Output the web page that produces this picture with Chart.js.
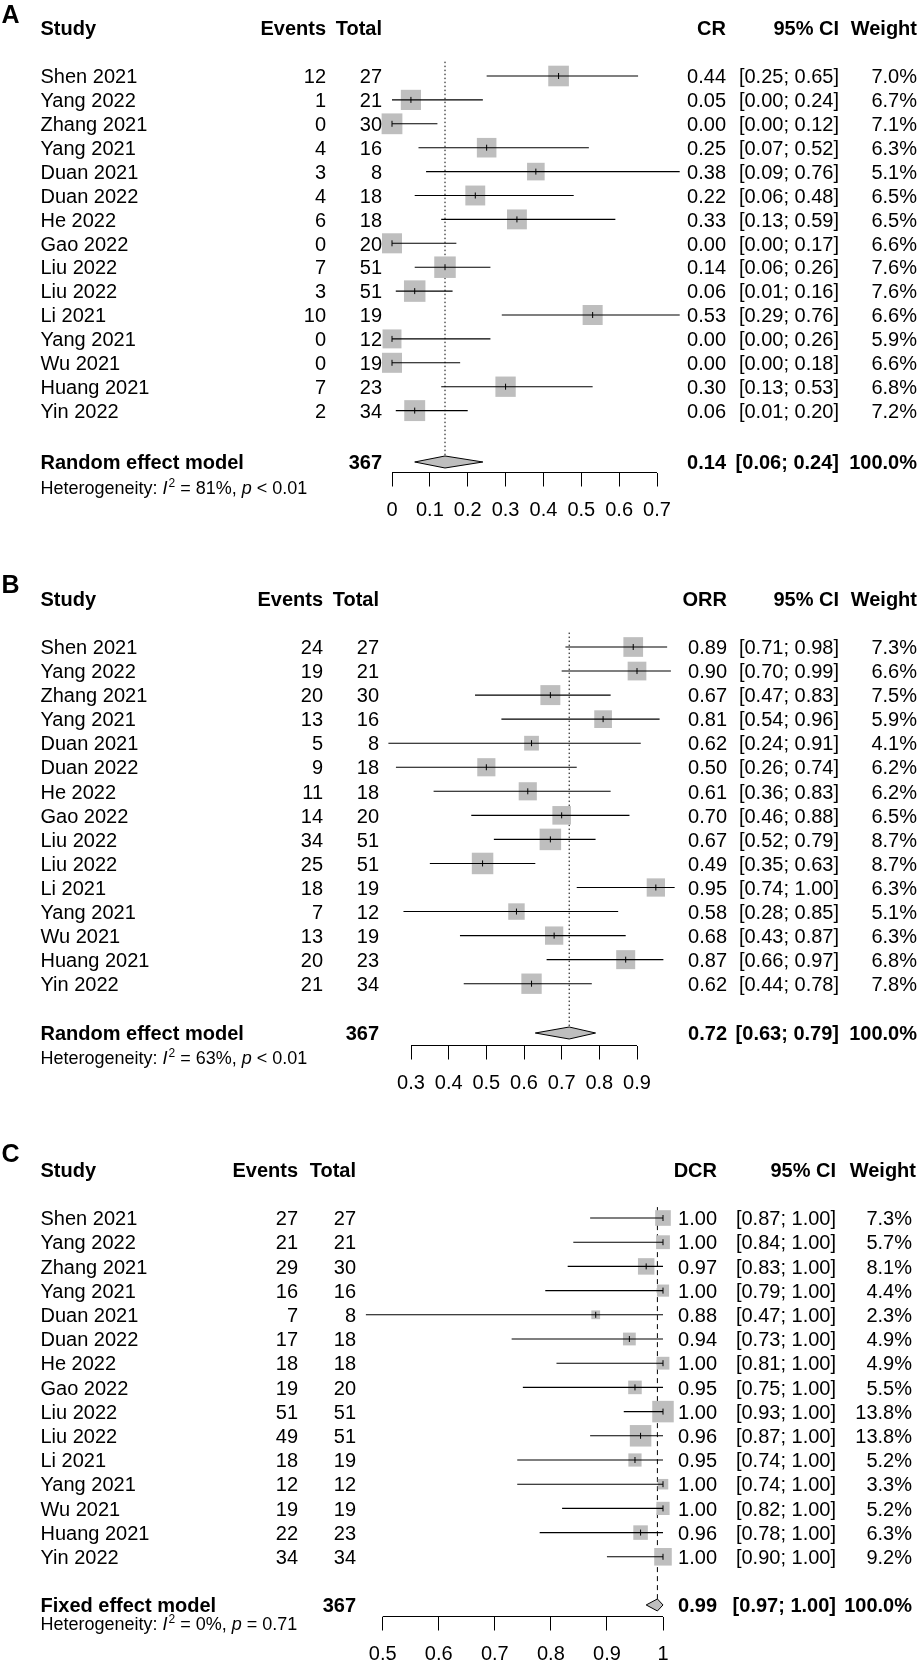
<!DOCTYPE html>
<html><head><meta charset="utf-8">
<script src="https://cdn.jsdelivr.net/npm/chart.js@4.4.1/dist/chart.umd.min.js"></script>
<style>
html,body{margin:0;padding:0;background:#fff;}
#wrap{position:relative;width:922px;height:1664px;background:#fff;overflow:hidden;}
canvas{position:absolute;left:0;}
</style></head><body><div id="wrap">
<canvas id="cA"></canvas><canvas id="cB"></canvas><canvas id="cC"></canvas></div>
<script>
// ---------- DATA ----------
const studies = ["Shen 2021","Yang 2022","Zhang 2021","Yang 2021","Duan 2021","Duan 2022","He 2022","Gao 2022","Liu 2022","Liu 2022","Li 2021","Yang 2021","Wu 2021","Huang 2021","Yin 2022"];
const totals = [27,21,30,16,8,18,18,20,51,51,19,12,19,23,34];
const totalN = 367;

// Panel A: CR
const crEvents = [12,1,0,4,3,4,6,0,7,3,10,0,0,7,2];
const crEst = [0.44,0.05,0.00,0.25,0.38,0.22,0.33,0.00,0.14,0.06,0.53,0.00,0.00,0.30,0.06];
const crLo  = [0.25,0.00,0.00,0.07,0.09,0.06,0.13,0.00,0.06,0.01,0.29,0.00,0.00,0.13,0.01];
const crHi  = [0.65,0.24,0.12,0.52,0.76,0.48,0.59,0.17,0.26,0.16,0.76,0.26,0.18,0.53,0.20];
const crWeight = [7.0,6.7,7.1,6.3,5.1,6.5,6.5,6.6,7.6,7.6,6.6,5.9,6.6,6.8,7.2];
const crPooled = [0.14,0.06,0.24];
const crTicks = [0,0.1,0.2,0.3,0.4,0.5,0.6,0.7];
const crTickLabels = ["0","0.1","0.2","0.3","0.4","0.5","0.6","0.7"];

// Panel B: ORR
const orrEvents = [24,19,20,13,5,9,11,14,34,25,18,7,13,20,21];
const orrEst = [0.89,0.90,0.67,0.81,0.62,0.50,0.61,0.70,0.67,0.49,0.95,0.58,0.68,0.87,0.62];
const orrLo  = [0.71,0.70,0.47,0.54,0.24,0.26,0.36,0.46,0.52,0.35,0.74,0.28,0.43,0.66,0.44];
const orrHi  = [0.98,0.99,0.83,0.96,0.91,0.74,0.83,0.88,0.79,0.63,1.00,0.85,0.87,0.97,0.78];
const orrWeight = [7.3,6.6,7.5,5.9,4.1,6.2,6.2,6.5,8.7,8.7,6.3,5.1,6.3,6.8,7.8];
const orrPooled = [0.72,0.63,0.79];
const orrTicks = [0.3,0.4,0.5,0.6,0.7,0.8,0.9];
const orrTickLabels = ["0.3","0.4","0.5","0.6","0.7","0.8","0.9"];

// Panel C: DCR
const dcrEvents = [27,21,29,16,7,17,18,19,51,49,18,12,19,22,34];
const dcrEst = [1.00,1.00,0.97,1.00,0.88,0.94,1.00,0.95,1.00,0.96,0.95,1.00,1.00,0.96,1.00];
const dcrLo  = [0.87,0.84,0.83,0.79,0.47,0.73,0.81,0.75,0.93,0.87,0.74,0.74,0.82,0.78,0.90];
const dcrHi  = [1.00,1.00,1.00,1.00,1.00,1.00,1.00,1.00,1.00,1.00,1.00,1.00,1.00,1.00,1.00];
const dcrWeight = [7.3,5.7,8.1,4.4,2.3,4.9,4.9,5.5,13.8,13.8,5.2,3.3,5.2,6.3,9.2];
const dcrPooled = [0.99,0.97,1.00];
const dcrTicks = [0.5,0.6,0.7,0.8,0.9,1.0];
const dcrTickLabels = ["0.5","0.6","0.7","0.8","0.9","1"];

const hetI2 = [81,63,0];
const hetP = ["< 0.01","< 0.01","= 0.71"];
const panelLetters = ["A","B","C"];
const estNames = ["CR","ORR","DCR"];
const modelNames = ["Random effect model","Random effect model","Fixed effect model"];

// ---------- LAYOUT / STYLE ----------
const FF = '"Liberation Sans", Arial, Helvetica, sans-serif';
const W = 922;
// tickPx: pixel of first and last tick; range: plotted value range (wider than axis so marks are not culled)
const layouts = [
  {top:0, H:571, row0:76, step:23.9, sumRow:16.15, hetRow:17.2, axisY:472.5, headerY:27.5, labelY:14,
   tickPx:[392,657], range:[-0.05,0.8],
   cols:{study:40.5, events:326, total:382, est:726, ci:839, wt:917, wtHead:917}, refTop:-0.6, dash:[1.5,2.5]},
  {top:571, H:571, row0:76, step:24.05, sumRow:16.05, hetRow:17.09, axisY:474.5, headerY:28, labelY:12.5,
   tickPx:[411,637], range:[0.2,1.0],
   cols:{study:40.5, events:323, total:379, est:727, ci:839, wt:917, wtHead:917}, refTop:-0.6, dash:[1.5,2.5]},
  {top:1142, H:522, row0:76, step:24.2, sumRow:15.99, hetRow:16.74, axisY:474.5, headerY:28, labelY:10.5,
   tickPx:[382.7,663], range:[0.45,1.05],
   cols:{study:40.5, events:298, total:356, est:717, ci:836, wt:912, wtHead:916}, refTop:-0.45, dash:[5,4]}
];
const SQ_MAX = 21.5, DIA_HALF = 6;

const panels = [
  {events:crEvents, est:crEst, lo:crLo, hi:crHi, weight:crWeight, pooled:crPooled, ticks:crTicks, tickLabels:crTickLabels},
  {events:orrEvents, est:orrEst, lo:orrLo, hi:orrHi, weight:orrWeight, pooled:orrPooled, ticks:orrTicks, tickLabels:orrTickLabels},
  {events:dcrEvents, est:dcrEst, lo:dcrLo, hi:dcrHi, weight:dcrWeight, pooled:dcrPooled, ticks:dcrTicks, tickLabels:dcrTickLabels}
];

const forestText = {
  id:'forestText',
  afterDraw(chart, args, o){
    const k = o.k, P = panels[k], L = layouts[k], C = L.cols;
    const ctx = chart.ctx, ys = chart.scales.y;
    ctx.save();
    ctx.fillStyle = '#000';
    const t = (s, x, yc, align, weight, size, style) => {
      size = size || 20;
      ctx.font = `${style||'normal'} ${weight||'normal'} ${size}px ${FF}`;
      ctx.textAlign = align; ctx.textBaseline = 'alphabetic';
      ctx.fillText(s, x, yc + size*0.36);
    };
    t(panelLetters[k], 1.5, L.labelY, 'left', 'bold', 25);
    const hy = L.headerY;
    t('Study', C.study, hy, 'left', 'bold');
    t('Events', C.events, hy, 'right', 'bold');
    t('Total', C.total, hy, 'right', 'bold');
    t(estNames[k], C.est, hy, 'right', 'bold');
    t('95% CI', C.ci, hy, 'right', 'bold');
    t('Weight', C.wtHead, hy, 'right', 'bold');
    for (let i = 0; i < studies.length; i++) {
      const y = ys.getPixelForValue(i);
      t(studies[i], C.study, y, 'left');
      t(String(P.events[i]), C.events, y, 'right');
      t(String(totals[i]), C.total, y, 'right');
      t(P.est[i].toFixed(2), C.est, y, 'right');
      t('[' + P.lo[i].toFixed(2) + '; ' + P.hi[i].toFixed(2) + ']', C.ci, y, 'right');
      t(P.weight[i].toFixed(1) + '%', C.wt, y, 'right');
    }
    const sy = ys.getPixelForValue(L.sumRow);
    t(modelNames[k], C.study, sy, 'left', 'bold');
    t(String(totalN), C.total, sy, 'right', 'bold');
    t(P.pooled[0].toFixed(2), C.est, sy, 'right', 'bold');
    t('[' + P.pooled[1].toFixed(2) + '; ' + P.pooled[2].toFixed(2) + ']', C.ci, sy, 'right', 'bold');
    t('100.0%', C.wt, sy, 'right', 'bold');
    // heterogeneity line
    const hyy = ys.getPixelForValue(L.hetRow);
    const hs = 18, base = hyy + hs*0.36;
    let x = C.study;
    ctx.textAlign = 'left'; ctx.textBaseline = 'alphabetic';
    const seg = (s, style, size, dy) => {
      ctx.font = `${style||'normal'} normal ${size||hs}px ${FF}`;
      ctx.fillText(s, x, base - (dy||0));
      x += ctx.measureText(s).width;
    };
    seg('Heterogeneity: ');
    seg('I', 'italic');
    x += 1;
    seg('2', 'normal', 12, 7);
    seg(' = ' + hetI2[k] + '%, ');
    seg('p', 'italic');
    seg(' ' + hetP[k]);
    ctx.restore();
  }
};

function buildPanel(k){
  const P = panels[k], L = layouts[k];
  const canvas = document.getElementById(['cA','cB','cC'][k]);
  canvas.width = W; canvas.height = L.H;
  canvas.style.top = L.top + 'px'; canvas.style.width = W + 'px'; canvas.style.height = L.H + 'px';
  const t0 = P.ticks[0], t1 = P.ticks[P.ticks.length-1];
  const pxPerUnit = (L.tickPx[1] - L.tickPx[0]) / (t1 - t0);
  const areaLeft = L.tickPx[0] + (L.range[0] - t0) * pxPerUnit;
  const areaRight = L.tickPx[1] + (L.range[1] - t1) * pxPerUnit;
  const yMax = (L.axisY - L.row0) / L.step;
  const wmax = Math.max(...P.weight);
  const pts = P.est.map((v,i) => ({x:v, y:i}));
  const ds = [];
  // small vertical mark at each estimate (drawn on top)
  ds.push({type:'scatter', data:pts, showLine:false, pointStyle:'line', pointRotation:90, pointRadius:3,
           pointBorderColor:'#000', pointBorderWidth:1, clip:false});
  // confidence interval lines
  for (let i = 0; i < P.est.length; i++) {
    ds.push({type:'line', data:[{x:P.lo[i], y:i},{x:P.hi[i], y:i}], borderColor:'#000', borderWidth:1.1,
             pointRadius:0, fill:false, clip:false, tension:0});
  }
  // squares sized by weight
  ds.push({type:'scatter', data:pts, showLine:false, pointStyle:'rect',
           pointRadius:P.weight.map(w => SQ_MAX*Math.sqrt(w/wmax)/Math.SQRT2),
           pointBackgroundColor:'#BEBEBE', pointBorderWidth:0, clip:false});
  // pooled diamond
  const r = L.sumRow, h = DIA_HALF / L.step, pe = P.pooled;
  ds.push({type:'line', data:[{x:pe[1],y:r},{x:pe[0],y:r-h},{x:pe[2],y:r},{x:pe[0],y:r+h},{x:pe[1],y:r}],
           fill:'shape', backgroundColor:'#BEBEBE', borderColor:'#000', borderWidth:1, pointRadius:0, clip:false, tension:0});
  // reference line at pooled estimate
  ds.push({type:'line', data:[{x:pe[0], y:L.refTop},{x:pe[0], y:r-h}], borderColor:'#000', borderWidth:1,
           borderDash:L.dash, pointRadius:0, fill:false, clip:false});
  // axis line spanning the tick range
  ds.push({type:'line', data:[{x:t0, y:yMax},{x:t1, y:yMax}], borderColor:'#000', borderWidth:1,
           pointRadius:0, fill:false, clip:false});

  new Chart(canvas, {
    type:'scatter',
    data:{datasets:ds},
    plugins:[forestText],
    options:{
      responsive:false, animation:false, events:[],
      layout:{padding:{left:areaLeft, right:W - areaRight, top:L.row0 - 2*L.step, bottom:0}},
      plugins:{legend:{display:false}, tooltip:{enabled:false}, forestText:{k:k}},
      scales:{
        x:{type:'linear', min:L.range[0], max:L.range[1],
           afterBuildTicks:(s) => { s.ticks = P.ticks.map(v => ({value:v})); },
           afterFit:(s) => { s.height = L.H - L.axisY; },
           ticks:{callback:(v,i) => P.tickLabels[i], font:{family:FF, size:20}, color:'#000', padding:12,
                  maxRotation:0, autoSkip:false},
           grid:{drawOnChartArea:false, drawTicks:true, tickLength:14, color:'#000', lineWidth:1},
           border:{display:false}},
        y:{type:'linear', display:false, reverse:true, min:-2, max:yMax}
      }
    }
  });
}
[0,1,2].forEach(buildPanel);
</script></body></html>
